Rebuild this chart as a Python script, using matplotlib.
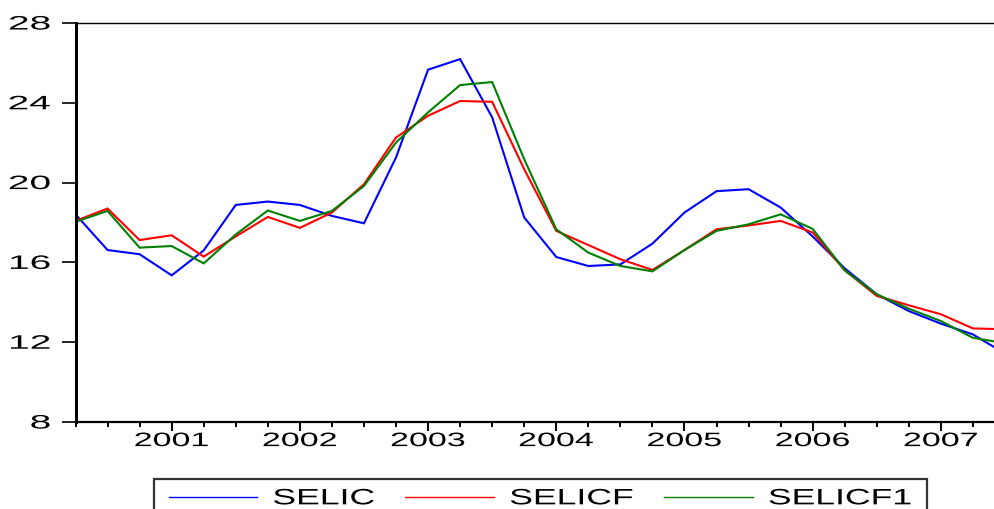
import numpy as np
import pandas as pd
import matplotlib
matplotlib.use("Agg")
import matplotlib.pyplot as plt
from matplotlib.patheffects import AbstractPathEffect
from matplotlib.transforms import Affine2D

# ---------------- data ----------------
quarters = pd.period_range("2000Q2", "2007Q3", freq="Q")
selic = [18.41, 16.62, 16.41, 15.35, 16.60, 18.88, 19.05, 18.88, 18.33, 17.96,
         21.26, 25.66, 26.19, 23.27, 18.25, 16.27, 15.82, 15.90, 16.94, 18.50,
         19.57, 19.67, 18.75, 17.30, 15.70, 14.40, 13.56, 12.93, 12.39, 11.43]
selicf = [18.08, 18.70, 17.12, 17.36, 16.29, 17.30, 18.28, 17.73, 18.50, 19.92,
          22.26, 23.35, 24.09, 24.05, 20.67, 17.58, 16.87, 16.16, 15.62, 16.62,
          17.66, 17.85, 18.08, 17.50, 15.60, 14.32, 13.85, 13.40, 12.69, 12.65]
selicf1 = [18.03, 18.58, 16.74, 16.82, 15.95, 17.40, 18.60, 18.08, 18.58, 19.83,
           22.01, 23.52, 24.89, 25.04, 21.17, 17.66, 16.49, 15.82, 15.55, 16.62,
           17.58, 17.91, 18.41, 17.68, 15.60, 14.40, 13.68, 13.06, 12.22, 11.95]
series_names = ["SELIC", "SELICF", "SELICF1"]
series_colors = ["#0000ff", "#ff0000", "#008000"]
yticks = [8, 12, 16, 20, 24, 28]


class HStretch(AbstractPathEffect):
    """Stretch rendered glyph/line paths horizontally (text stays real text)."""
    def __init__(self, sx, anchor="center", cx=None):
        super().__init__()
        self.sx = sx
        self.anchor = anchor
        self.cx = cx

    def draw_path(self, renderer, gc, tpath, affine, rgbFace=None):
        if self.cx is not None:
            a = self.cx
        else:
            ext = tpath.get_extents(affine)
            a = {"left": ext.x0, "center": 0.5 * (ext.x0 + ext.x1),
                 "right": ext.x1}[self.anchor]
        new = affine + Affine2D().translate(-a, 0).scale(self.sx, 1).translate(a, 0)
        renderer.draw_path(gc, tpath, new, rgbFace)


plt.rcParams["font.family"] = ["Liberation Sans", "DejaVu Sans"]

W, H = 995, 510
fig = plt.figure(figsize=(W / 100, H / 100), dpi=100)
left, right, top, bottom = 75.5, 1005, 24, 423
ax = fig.add_axes([left / W, 1 - bottom / H, (right - left) / W, (bottom - top) / H])

x = np.arange(len(quarters))
lines = []
for vals, name, col in zip([selic, selicf, selicf1], series_names, series_colors):
    ln, = ax.plot(x, vals, color=col, lw=1.5, label=name, solid_joinstyle="miter")
    lines.append(ln)

ax.set_xlim(0, len(quarters) - 1)
ax.set_ylim(8, 28)
ax.set_yticks(yticks)
ax.set_yticklabels([str(v) for v in yticks])

major = [i for i, q in enumerate(quarters) if q.quarter == 1]
minor = [i for i, q in enumerate(quarters) if q.quarter != 1]
ax.set_xticks(major)
ax.set_xticklabels([str(quarters[i].year) for i in major])
ax.set_xticks(minor, minor=True)

ax.tick_params(axis="y", direction="out", length=10, width=1.2, pad=8,
               labelsize=14, colors="black")
ax.tick_params(axis="x", which="major", direction="out", length=6.5, width=1.4,
               pad=1.5, labelsize=14)
ax.tick_params(axis="x", which="minor", direction="out", length=3.6, width=1.4)

ax.spines["left"].set_linewidth(2.2)
ax.spines["bottom"].set_linewidth(1.6)
ax.spines["top"].set_linewidth(1.0)
ax.spines["right"].set_linewidth(1.0)

for t in ax.get_yticklabels():
    t.set_path_effects([HStretch(2.0, "right")])
for t in ax.get_xticklabels():
    t.set_path_effects([HStretch(1.75, "center")])

# legend
cx = 540.5
leg = fig.legend(lines, series_names, loc="upper center",
                 bbox_to_anchor=(cx / W, 1 - 480 / H), ncol=3, fontsize=16,
                 frameon=True, fancybox=False, edgecolor="black",
                 borderaxespad=0, handlelength=2.5, handletextpad=0.42,
                 columnspacing=0.85, borderpad=0.42)
leg.get_frame().set_linewidth(1.6)
pe = HStretch(1.6, cx=cx)
for t in leg.get_texts():
    t.set_path_effects([pe])
for h in leg.legend_handles:
    h.set_linewidth(1.0)
    h.set_path_effects([pe])
leg.get_frame().set_path_effects([pe])

fig.savefig("out.png", dpi=100)
